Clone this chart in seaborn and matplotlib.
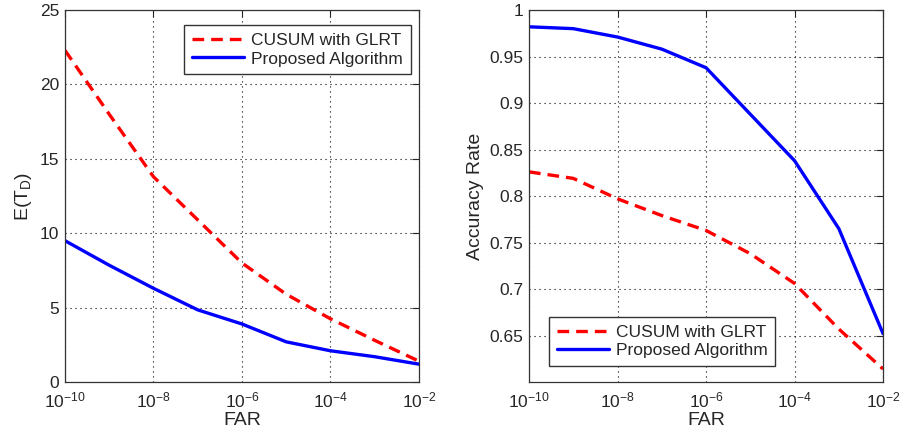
import numpy as np
import pandas as pd
import seaborn as sns
import matplotlib
matplotlib.use("Agg")
import matplotlib.pyplot as plt

far = [1e-10, 1e-9, 1e-8, 1e-7, 1e-6, 1e-5, 1e-4, 1e-3, 1e-2]

# expected detection delay
td_cusum = [22.3, 18.0, 13.8, 10.9, 8.0, 5.9, 4.25, 2.8, 1.4]
td_proposed = [9.5, 7.85, 6.3, 4.85, 3.9, 2.7, 2.1, 1.7, 1.2]

# accuracy rate
acc_cusum = [0.826, 0.819, 0.797, 0.779, 0.763, 0.738, 0.706, 0.657, 0.614]
acc_proposed = [0.982, 0.980, 0.971, 0.958, 0.938, 0.888, 0.838, 0.765, 0.652]

xticks = [1e-10, 1e-8, 1e-6, 1e-4, 1e-2]
legend_names = ["CUSUM with GLRT", "Proposed Algorithm"]

sns.set_style("white")
plt.rcParams["font.family"] = ["Liberation Sans", "DejaVu Sans"]
plt.rcParams["mathtext.fontset"] = "custom"
plt.rcParams["mathtext.rm"] = "Liberation Sans"
plt.rcParams["mathtext.it"] = "Liberation Sans:italic"
plt.rcParams["mathtext.default"] = "regular"

fig = plt.figure(figsize=(9.02, 4.32), dpi=100)
ax1 = fig.add_axes([0.072, 0.1157, 0.3925, 0.861])
ax2 = fig.add_axes([0.5865, 0.1157, 0.3925, 0.861])


def style_axis(ax):
    ax.set_xscale("log")
    ax.set_xlim(1e-10, 1e-2)
    ax.set_xticks(xticks)
    ax.minorticks_off()
    ax.grid(True, which="major", color="black", linestyle=(0, (1, 3.5)), linewidth=0.8)
    ax.tick_params(direction="in", top=True, right=True, labelsize=12.5, length=5, width=0.8, pad=6)
    ax.tick_params(axis="y", pad=4)
    for s in ax.spines.values():
        s.set_color("#333333")
        s.set_linewidth(0.9)
    ax.set_xlabel("FAR", fontsize=14, labelpad=1)


df1 = pd.DataFrame({"far": far + far,
                    "val": td_cusum + td_proposed,
                    "alg": [legend_names[0]] * len(far) + [legend_names[1]] * len(far)})
df2 = pd.DataFrame({"far": far + far,
                    "val": acc_cusum + acc_proposed,
                    "alg": [legend_names[0]] * len(far) + [legend_names[1]] * len(far)})

pal = {legend_names[0]: "#ff0000", legend_names[1]: "#0000ff"}
dashes = {legend_names[0]: (3.5, 2.1), legend_names[1]: ""}

leg_kw = dict(title=None, fontsize=12.5, frameon=True, fancybox=False, edgecolor="#333333",
              framealpha=1, handlelength=3.0, borderpad=0.45, labelspacing=0.2,
              handletextpad=0.4, borderaxespad=0)

sns.lineplot(data=df1, x="far", y="val", hue="alg", style="alg", palette=pal,
             dashes=dashes, linewidth=2.4, ax=ax1)
style_axis(ax1)
ax1.set_ylim(0, 25)
ax1.set_yticks([0, 5, 10, 15, 20, 25])
ax1.set_ylabel("E(T$_D$)", fontsize=14)
ax1.legend(loc="upper right", bbox_to_anchor=(0.977, 0.96), **leg_kw)

sns.lineplot(data=df2, x="far", y="val", hue="alg", style="alg", palette=pal,
             dashes=dashes, linewidth=2.4, ax=ax2)
style_axis(ax2)
ax2.set_ylim(0.6, 1)
ax2.set_yticks([0.65, 0.7, 0.75, 0.8, 0.85, 0.9, 0.95, 1])
ax2.set_yticklabels(["0.65", "0.7", "0.75", "0.8", "0.85", "0.9", "0.95", "1"])
ax2.set_ylabel("Accuracy Rate", fontsize=14)
ax2.legend(loc="lower left", bbox_to_anchor=(0.056, 0.043), **leg_kw)

fig.savefig("out.png", dpi=100)
